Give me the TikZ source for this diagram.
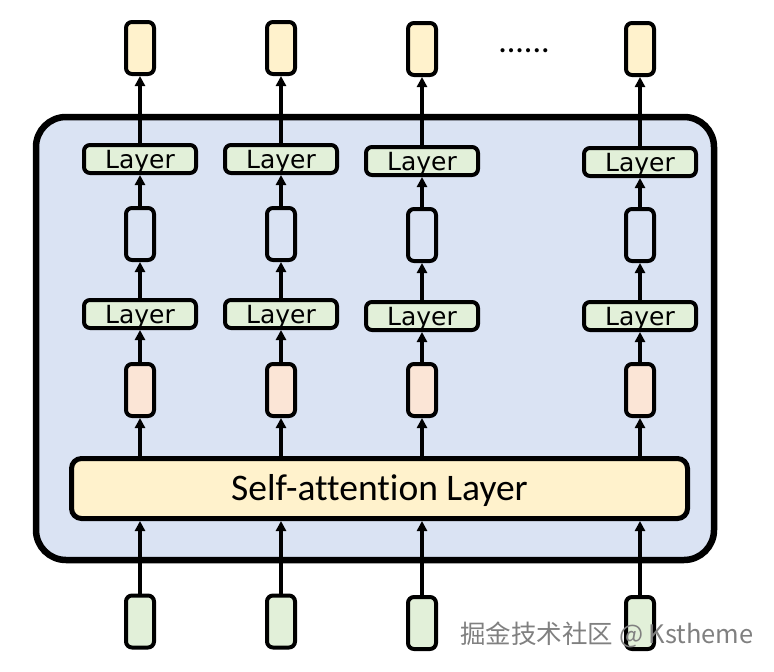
\documentclass[tikz,border=0pt]{standalone}
\usepackage{fontspec}
\setmainfont{Carlito}[Ligatures=NoCommon]
\newfontfamily\layerfont{DejaVu Sans}
\newfontfamily\cjkfont{Noto Sans CJK SC}
\usetikzlibrary{arrows.meta, positioning}
\definecolor{outfill}{HTML}{FFF2CC}
\definecolor{hidfill}{HTML}{DAE3F3}
\definecolor{attfill}{HTML}{FBE5D6}
\definecolor{infill}{HTML}{E2F0D9}
\tikzstyle{vec} = [rectangle, rounded corners=6pt, minimum width=28pt, minimum height=52pt, inner sep=0pt, draw=black, line width=4pt]
\tikzstyle{layer} = [rectangle, rounded corners=6pt, minimum width=112pt, minimum height=28pt, inner sep=0pt, text height=18pt, text depth=0pt, draw=black, line width=4pt, fill=infill, font=\layerfont\fontsize{25}{25}\selectfont]
\tikzstyle{arrow} = [line width=3.2pt, -{Triangle[length=10pt,width=10pt]}]

\begin{document}
\begin{tikzpicture}[x=1pt, y=1pt]
\useasboundingbox (0,0) rectangle (774,-672);

% Block
\node (block) [rectangle, rounded corners=30pt, draw=black, line width=6.5pt, fill=hidfill, minimum width=678pt, minimum height=443pt] at (375,-338.5) {};
\node (self) [rectangle, rounded corners=10pt, draw=black, line width=5pt, fill=outfill, minimum width=616pt, minimum height=60pt, text height=24pt, text depth=0pt, font=\fontsize{37.5}{37.5}\selectfont] at (379.5,-488.5) {Self-attention Layer};

% Inputs
\node (in1) [vec, fill=infill] at (140,-621.5) {};
\node (in2) [vec, fill=infill] at (281,-621.5) {};
\node (in3) [vec, fill=infill] at (422,-623) {};
\node (in4) [vec, fill=infill] at (640,-623) {};

% Column 1
\node (att1) [vec, fill=attfill] at (140,-390) {};
\node (low1) [layer] at (140,-314) {Layer};
\node (hid1) [vec, fill=hidfill] at (140,-234) {};
\node (up1) [layer] at (140,-159) {Layer};
\node (out1) [vec, fill=outfill] at (140,-48) {};

% Column 2
\node (att2) [vec, fill=attfill] at (281,-390) {};
\node (low2) [layer] at (281,-314) {Layer};
\node (hid2) [vec, fill=hidfill] at (281,-234) {};
\node (up2) [layer] at (281,-159) {Layer};
\node (out2) [vec, fill=outfill] at (281,-48) {};

% Column 3
\node (att3) [vec, fill=attfill] at (422,-390) {};
\node (low3) [layer] at (422,-316) {Layer};
\node (hid3) [vec, fill=hidfill] at (422,-235) {};
\node (up3) [layer] at (422,-161) {Layer};
\node (out3) [vec, fill=outfill] at (422,-49) {};

% Column 4
\node (att4) [vec, fill=attfill] at (640,-390) {};
\node (low4) [layer] at (640,-316) {Layer};
\node (hid4) [vec, fill=hidfill] at (640,-235) {};
\node (up4) [layer] at (640,-162) {Layer};
\node (out4) [vec, fill=outfill] at (640,-49) {};

\node (dots) [font=\fontsize{34}{34}\selectfont] at (524,-51) {......};

% Arrows
\draw [arrow] (in1) -- (in1 |- self.south);
\draw [arrow] (in2) -- (in2 |- self.south);
\draw [arrow] (in3) -- (in3 |- self.south);
\draw [arrow] (in4) -- (in4 |- self.south);

\draw [arrow] (att1 |- self.north) -- (att1);
\draw [arrow] (att2 |- self.north) -- (att2);
\draw [arrow] (att3 |- self.north) -- (att3);
\draw [arrow] (att4 |- self.north) -- (att4);

\draw [arrow] (att1) -- (low1);
\draw [arrow] (att2) -- (low2);
\draw [arrow] (att3) -- (low3);
\draw [arrow] (att4) -- (low4);

\draw [arrow] (low1) -- (hid1);
\draw [arrow] (low2) -- (hid2);
\draw [arrow] (low3) -- (hid3);
\draw [arrow] (low4) -- (hid4);

\draw [arrow] (hid1) -- (up1);
\draw [arrow] (hid2) -- (up2);
\draw [arrow] (hid3) -- (up3);
\draw [arrow] (hid4) -- (up4);

\draw [arrow] (up1) -- (out1);
\draw [arrow] (up2) -- (out2);
\draw [arrow] (up3) -- (out3);
\draw [arrow] (up4) -- (out4);

% Watermark
\node (mark) [text=black!50, font=\cjkfont\fontsize{25.5}{25.5}\selectfont] at (607,-635) {掘金技术社区 @ Kstheme};

\end{tikzpicture}
\end{document}
